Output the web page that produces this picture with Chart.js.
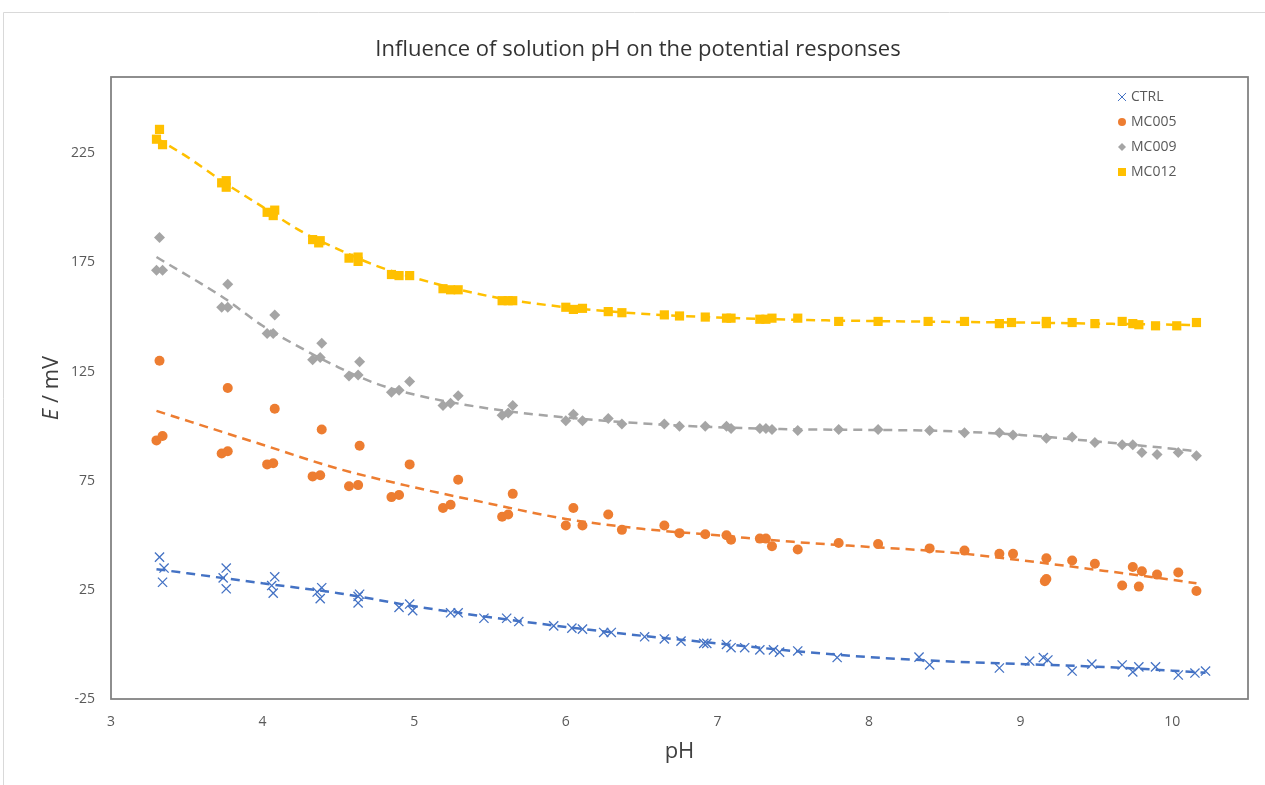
<!DOCTYPE html>
<html lang="en">
<head>
  <meta charset="UTF-8" />
  <title>Influence of solution pH on the potential responses</title>
  <script src="https://cdn.jsdelivr.net/npm/chart.js"></script>
  <style>
    body { margin: 0; background: #fff; }
    .wrap { width: 1265px; height: 785px; position: relative; }
  </style>
</head>
<body>
<div class="wrap"><canvas id="phChart"></canvas></div>
<script>
// axis ticks
const xTicks = [3, 4, 5, 6, 7, 8, 9, 10];
const yTicks = [-25, 25, 75, 125, 175, 225];

// CTRL
const ctrlPH = [3.32,3.35,3.34,3.76,3.74,3.76,4.08,4.06,4.07,4.39,4.36,4.38,4.64,4.63,4.63,4.90,4.97,4.99,5.24,5.29,5.46,5.61,5.69,5.92,6.04,6.11,6.25,6.30,6.52,6.65,6.76,6.91,6.93,7.06,7.09,7.18,7.28,7.37,7.41,7.53,7.79,8.33,8.40,8.86,9.06,9.15,9.18,9.34,9.47,9.67,9.74,9.78,9.89,10.04,10.15,10.22];
const ctrlE  = [40,35,28.5,35,30.5,25.5,31,27,23.5,26,24,21,23,22,19,17,18.5,15.5,14.5,14.5,12,12,10.5,8.5,7.5,7,5.5,5.5,3.5,2.5,1.5,0.5,0.5,0,-1.5,-1.5,-2.5,-2.5,-3.5,-3,-6,-5.8,-9.4,-10.8,-7.6,-6,-7.1,-12.2,-9,-9.4,-12.6,-10.3,-10.3,-14,-13.1,-12.2];
const ctrlFitPH = [3.3,4,4.5,5,5.5,6,6.5,7,7.5,8,8.5,9,9.5,10,10.22];
const ctrlFitE  = [34.5,28,23.5,17.5,12.5,8,4,0.5,-3,-5.8,-7.7,-9,-10.2,-12,-13];

// MC005
const mc005PH = [3.32,3.30,3.34,3.77,3.73,3.77,4.08,4.03,4.07,4.39,4.33,4.38,4.64,4.57,4.63,4.97,4.85,4.90,5.29,5.19,5.24,5.65,5.58,5.62,6.05,6.00,6.11,6.28,6.37,6.65,6.75,6.92,7.06,7.09,7.28,7.32,7.36,7.53,7.80,8.06,8.40,8.63,8.86,8.95,9.17,9.17,9.16,9.34,9.49,9.67,9.74,9.80,9.78,9.90,10.04,10.16];
const mc005E  = [130,93.5,95.5,117.5,87.5,88.5,108,82.5,83,98.5,77,77.5,91,72.5,73,82.5,67.5,68.5,75.5,62.5,64,69,58.5,59.5,62.5,54.5,54.5,59.5,52.5,54.5,51,50.5,50,48,48.5,48.5,45,43.5,46.5,46,44,43,41.5,41.5,39.5,30,29,38.5,37,27,35.5,33.5,26.5,32,33,24.5];
const mc005FitPH = [3.3,4,4.5,5,5.5,6,6.5,7,7.5,8,8.5,9,9.5,10,10.16];
const mc005FitE  = [107,91.5,80.5,72,64.5,57.5,53,50,47,44.7,42.4,38.6,34.2,29.6,28];

// MC009
const mc009PH = [3.32,3.30,3.34,3.77,3.73,3.77,4.08,4.03,4.07,4.39,4.33,4.38,4.64,4.57,4.63,4.97,4.85,4.90,5.19,5.24,5.29,5.58,5.62,5.65,6.00,6.05,6.11,6.28,6.37,6.65,6.75,6.92,7.06,7.09,7.28,7.32,7.36,7.53,7.80,8.06,8.40,8.63,8.86,8.95,9.17,9.34,9.49,9.67,9.74,9.80,9.90,10.04,10.16];
const mc009E  = [186.5,171.5,171.5,165,154.5,154.5,151,142.5,142.5,138,130.5,131.5,129.5,123,123.5,120.5,115.5,116.5,109.5,110.5,114,105,106,109.5,102.5,105.5,102.5,103.5,101,101,100,100,100,99,99,99,98.5,98,98.5,98.5,98,97,97,96,94.5,95,92.5,91.5,91.5,88,87,88,86.5];
const mc009FitPH = [3.3,3.75,4,4.25,4.5,4.75,5,5.5,6,6.5,7,7.5,8,8.5,9,9.5,10,10.16];
const mc009FitE  = [177.5,158.5,146,136,127,119.5,114.5,108,104,101.3,99.5,98.6,98.3,97.8,96,93,89.7,88.5];

// MC012
const mc012PH = [3.32,3.30,3.34,3.76,3.73,3.76,4.08,4.03,4.07,4.33,4.38,4.37,4.57,4.63,4.63,4.85,4.90,4.97,5.19,5.24,5.29,5.58,5.62,5.65,6.00,6.05,6.11,6.28,6.37,6.65,6.75,6.92,7.06,7.09,7.28,7.32,7.36,7.53,7.80,8.06,8.39,8.63,8.86,8.94,9.17,9.17,9.34,9.49,9.67,9.74,9.78,9.89,10.03,10.16];
const mc012E  = [236,231.5,229,212.5,211.5,209.5,199,198,196.5,185.5,185,184,177,177.5,175.5,169.5,169,169,163,162.5,162.5,157.5,157.5,157.5,154.5,153.5,154,152.5,152,151,150.5,150,149.5,149.5,149,149,149.5,149.5,148,148,148,148,147,147.5,148,147,147.5,147,148,147,146.5,146,146,147.5];
const mc012FitPH = [3.3,3.5,3.75,4,4.25,4.5,4.75,5,5.5,6,6.5,7,7.5,8,8.5,9,9.5,10,10.16];
const mc012FitE  = [232,223.5,211.5,200.5,189.5,181,173.5,168,159.5,154.5,151.5,149.8,148.8,148.2,147.8,147.5,147,146.5,146.3];

Chart.defaults.font.family = "'Open Sans', sans-serif";

function pts(xs, ys) {
  return xs.map((x, i) => ({ x: x, y: ys[i] }));
}

function scatterSet(label, xs, ys, color, style, radius, bw) {
  return {
    type: 'scatter', label: label, data: pts(xs, ys),
    pointStyle: style, pointRadius: radius,
    pointBackgroundColor: color, pointBorderColor: color, pointBorderWidth: bw,
    showLine: false, order: 1
  };
}

function fitSet(label, xs, ys, color) {
  return {
    type: 'line', label: label, data: pts(xs, ys), isFit: true,
    borderColor: color, borderWidth: 2.5, borderDash: [9, 6],
    pointRadius: 0, fill: false, cubicInterpolationMode: 'monotone', order: 0
  };
}

// outer frame + plot box
const framePlugin = {
  id: 'frame',
  beforeDraw(chart) {
    const ctx = chart.ctx;
    ctx.save();
    ctx.fillStyle = '#fff';
    ctx.fillRect(0, 0, chart.width, chart.height);
    ctx.strokeStyle = '#d9d9d9';
    ctx.lineWidth = 1;
    ctx.beginPath();
    ctx.moveTo(3.5, chart.height);
    ctx.lineTo(3.5, 12.5);
    ctx.lineTo(chart.width, 12.5);
    ctx.stroke();
    ctx.restore();
  },
  beforeDatasetsDraw(chart) {
    const a = chart.chartArea, ctx = chart.ctx;
    ctx.save();
    ctx.strokeStyle = '#7f7f7f';
    ctx.lineWidth = 1.75;
    ctx.strokeRect(a.left, a.top, a.right - a.left, a.bottom - a.top);
    ctx.restore();
  }
};

// legend inside the plot, top right, plus the y title with italic E
const extrasPlugin = {
  id: 'extras',
  afterDraw(chart) {
    const ctx = chart.ctx, a = chart.chartArea;
    ctx.save();
    let y = a.top + 20;
    chart.data.datasets.forEach(ds => {
      if (ds.isFit) return;
      ctx.fillStyle = ds.pointBackgroundColor;
      ctx.strokeStyle = ds.pointBorderColor;
      const r = ds.pointStyle === 'circle' || ds.pointStyle === 'rectRot' ? 4 : 5.7;
      Chart.helpers.drawPoint(ctx, { pointStyle: ds.pointStyle, radius: r, rotation: 0, borderWidth: ds.pointBorderWidth }, a.right - 126, y);
      ctx.fillStyle = '#595959';
      ctx.font = "14px 'Open Sans', sans-serif";
      ctx.textBaseline = 'middle';
      ctx.textAlign = 'left';
      ctx.fillText(ds.label, a.right - 117, y);
      y += 25;
    });

    ctx.translate(52, (a.top + a.bottom) / 2);
    ctx.rotate(-Math.PI / 2);
    ctx.fillStyle = '#404040';
    ctx.textBaseline = 'middle';
    ctx.textAlign = 'left';
    const fi = "italic 22px 'Open Sans', sans-serif", fn = "22px 'Open Sans', sans-serif";
    ctx.font = fi;
    const w1 = ctx.measureText('E').width;
    ctx.font = fn;
    const w2 = ctx.measureText(' / mV').width;
    const x0 = -(w1 + w2) / 2;
    ctx.font = fi;
    ctx.fillText('E', x0, 0);
    ctx.font = fn;
    ctx.fillText(' / mV', x0 + w1, 0);
    ctx.restore();
  }
};

new Chart(document.getElementById('phChart'), {
  type: 'scatter',
  data: {
    datasets: [
      scatterSet('CTRL', ctrlPH, ctrlE, '#4472C4', 'crossRot', 6.5, 1.3),
      scatterSet('MC005', mc005PH, mc005E, '#ED7D31', 'circle', 5, 0),
      scatterSet('MC009', mc009PH, mc009E, '#A5A5A5', 'rectRot', 5.5, 0),
      scatterSet('MC012', mc012PH, mc012E, '#FFC000', 'rect', 6.5, 0),
      fitSet('CTRL fit', ctrlFitPH, ctrlFitE, '#4472C4'),
      fitSet('MC005 fit', mc005FitPH, mc005FitE, '#ED7D31'),
      fitSet('MC009 fit', mc009FitPH, mc009FitE, '#A5A5A5'),
      fitSet('MC012 fit', mc012FitPH, mc012FitE, '#FFC000')
    ]
  },
  options: {
    responsive: true,
    maintainAspectRatio: false,
    animation: false,
    layout: { padding: { top: 0, left: 28, right: 17, bottom: 0 } },
    plugins: {
      legend: { display: false },
      tooltip: { enabled: false },
      title: {
        display: true,
        text: 'Influence of solution pH on the potential responses',
        color: '#333333',
        font: { size: 22, weight: 'normal', lineHeight: 1.2 },
        padding: { top: 36.8, bottom: 13.8 }
      }
    },
    scales: {
      x: {
        type: 'linear', min: 3, max: 10.5,
        grid: { display: false, drawTicks: false },
        border: { display: false },
        afterBuildTicks: axis => { axis.ticks = xTicks.map(v => ({ value: v })); },
        afterFit: scale => { scale.height = 86; },
        ticks: { color: '#595959', font: { size: 14 }, padding: 15 },
        title: { display: true, text: 'pH', color: '#404040', font: { size: 22 }, padding: { top: 4, bottom: 20 } }
      },
      y: {
        type: 'linear', min: -25, max: 260,
        grid: { display: false, drawTicks: false },
        border: { display: false },
        afterBuildTicks: axis => { axis.ticks = yTicks.map(v => ({ value: v })); },
        afterFit: scale => { scale.width = 83; },
        ticks: { color: '#595959', font: { size: 14 }, padding: 16 }
      }
    }
  },
  plugins: [framePlugin, extrasPlugin]
});
</script>
</body>
</html>
